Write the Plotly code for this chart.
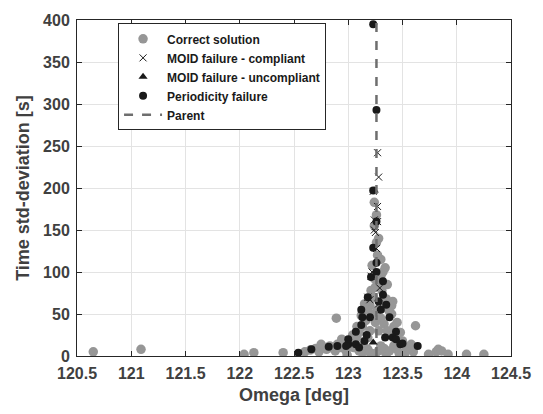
import plotly.graph_objects as go

# Correct solution (gray circles)
correct_x = [120.65, 121.09, 122.04, 122.13, 122.4, 122.99, 123.35, 123.52, 123.74, 123.81,
             123.83, 123.86, 123.92, 124.09, 124.25, 123.62, 122.89, 123.41,
             122.6, 122.65, 122.7, 122.73, 122.77, 122.8, 122.83, 122.86, 122.9, 122.93,
             122.96, 122.98, 123.02, 123.05, 123.08, 123.1, 123.13, 123.18, 123.2, 123.28,
             123.3, 123.33, 123.38, 123.42, 123.45, 123.5, 123.55, 123.58, 123.47, 123.6, 123.25,
             123.1, 123.13, 123.16, 123.2, 123.22, 123.25, 123.28, 123.3, 123.33, 123.36,
             123.39, 123.42, 123.45, 123.4, 123.37, 123.33, 123.3, 123.27, 123.2, 123.17,
             123.15, 123.23, 123.35, 123.4, 123.12, 123.08,
             123.21, 123.25, 123.28, 123.3, 123.32, 123.34, 123.3, 123.27, 123.22, 123.24,
             123.31, 123.36, 123.26, 123.28, 123.24, 123.26, 123.24,
             122.75, 122.88, 122.94, 123.04, 123.14, 123.18, 123.43, 123.48, 123.53]
correct_y = [5, 8, 2, 4, 4, 1, 2, 2, 2, 5,
             8, 6, 2, 2, 2, 36, 45, 65,
             5, 7, 9, 5, 10, 8, 12, 9, 14, 10,
             16, 6, 18, 10, 22, 6, 4, 8, 4, 6,
             12, 9, 6, 12, 8, 18, 10, 14, 3, 5, 3,
             28, 35, 42, 30, 50, 40, 30, 45, 38, 30,
             25, 35, 40, 50, 55, 60, 65, 55, 60, 55,
             62, 70, 68, 60, 48, 35,
             78, 82, 88, 95, 100, 105, 115, 120, 108, 92,
             78, 85, 135, 140, 155, 168, 183,
             14, 6, 20, 25, 14, 22, 22, 28, 6]

# MOID failure - compliant (crosses)
comp_x = [123.27, 123.28, 123.27, 123.24, 123.27, 123.25, 123.26, 123.22, 123.21, 123.29,
          123.18, 123.2, 123.28, 123.24, 123.23]
comp_y = [242, 213, 178, 162, 160, 147, 128, 100, 95, 81,
          70, 67, 62, 150, 196]

# MOID failure - uncompliant (triangles)
uncomp_x = [123.24, 123.23]
uncomp_y = [197, 16]

# Periodicity failure (black circles)
period_x = [123.23, 123.26, 123.23, 123.26, 123.23, 123.26, 123.21, 123.32, 123.32, 123.18,
            123.35, 123.3, 123.12, 123.13, 123.2, 123.38, 123.12, 123.07, 123.44, 123.0,
            123.34, 123.41, 123.44, 123.48, 123.5, 123.64, 123.0, 123.07, 122.98, 122.9,
            122.82, 122.66, 122.54, 123.1, 123.15, 123.17, 123.28, 123.26]
period_y = [395, 293, 197, 160, 129, 111, 94, 89, 73, 70,
            61, 55, 55, 46, 46, 46, 37, 29, 29, 20,
            22, 22, 20, 14, 15, 12, 14, 14, 12, 12,
            11, 8, 4, 10, 18, 25, 65, 100]

# Parent
parent_x = [123.26, 123.26]
parent_y = [0, 400]

x_ticks = [120.5, 121, 121.5, 122, 122.5, 123, 123.5, 124, 124.5]
y_ticks = [0, 50, 100, 150, 200, 250, 300, 350, 400]

FONT = "Liberation Sans, Arial, sans-serif"

fig = go.Figure()
fig.add_trace(go.Scatter(x=correct_x, y=correct_y, mode="markers", name="Correct solution",
                         marker=dict(symbol="circle", size=9.5, color="#969696")))
fig.add_trace(go.Scatter(x=comp_x, y=comp_y, mode="markers", name="MOID failure - compliant",
                         marker=dict(symbol="x-thin", size=7, color="#1a1a1a",
                                     line=dict(width=1, color="#1a1a1a"))))
fig.add_trace(go.Scatter(x=uncomp_x, y=uncomp_y, mode="markers", name="MOID failure - uncompliant",
                         marker=dict(symbol="triangle-up", size=8, color="#1a1a1a")))
fig.add_trace(go.Scatter(x=period_x, y=period_y, mode="markers", name="Periodicity failure",
                         marker=dict(symbol="circle", size=8, color="#1a1a1a")))
fig.add_trace(go.Scatter(x=parent_x, y=parent_y, mode="lines", name="Parent",
                         line=dict(color="#6e6e6e", width=2.5, dash="dash")))

axis_common = dict(showgrid=True, gridcolor="#e3e3e3", gridwidth=1,
                   showline=True, linecolor="#262626", linewidth=1, mirror="ticks",
                   ticks="inside", ticklen=5, tickcolor="#262626",
                   zeroline=False,
                   tickfont=dict(family=FONT, size=16, color="#404040", weight="bold"))

fig.update_layout(
    width=543, height=414,
    margin=dict(l=77, r=22, t=16, b=57),
    plot_bgcolor="white", paper_bgcolor="white",
    font=dict(family=FONT, color="#404040"),
    xaxis=dict(range=[120.5, 124.5], tickvals=x_ticks,
               ticktext=[f"{v:g}" for v in x_ticks], ticklabelstandoff=3,
               title=dict(text="Omega [deg]", font=dict(family=FONT, size=18, color="#404040", weight="bold"), standoff=7),
               **axis_common),
    yaxis=dict(range=[0, 400], tickvals=y_ticks,
               ticktext=[str(v) for v in y_ticks], ticklabelstandoff=3,
               title=dict(text="Time std-deviation [s]", font=dict(family=FONT, size=18, color="#404040", weight="bold"), standoff=8),
               **axis_common),
    legend=dict(x=0.0946, y=0.99, xanchor="left", yanchor="top",
                bgcolor="white", bordercolor="#262626", borderwidth=1,
                font=dict(family=FONT, size=12, color="#1a1a1a", weight="bold"),
                tracegroupgap=0, itemwidth=38),
    showlegend=True,
)

fig.write_html("out.html")
